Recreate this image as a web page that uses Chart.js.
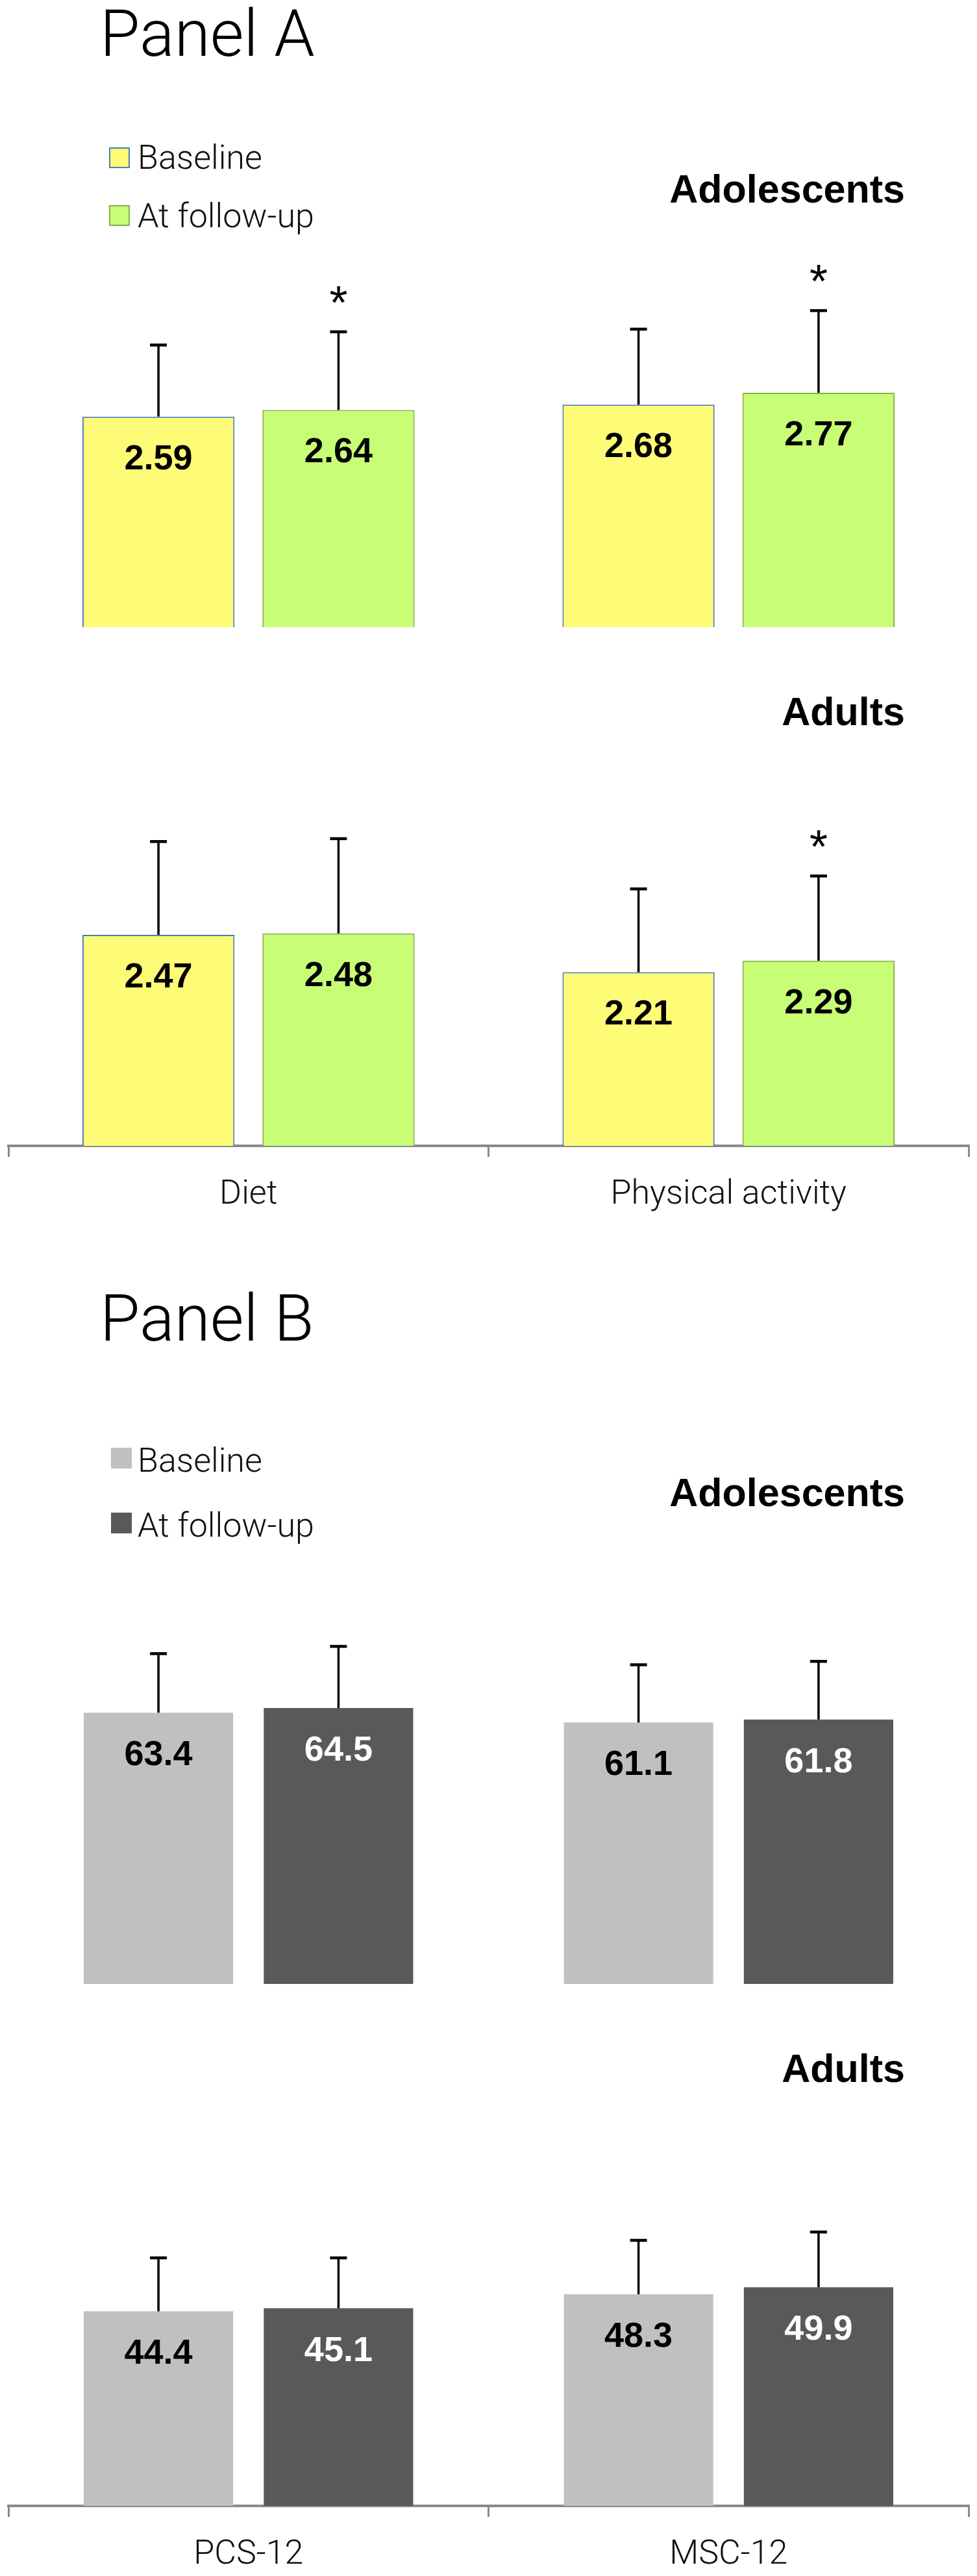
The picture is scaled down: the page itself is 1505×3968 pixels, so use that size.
<!DOCTYPE html>
<html>
<head>
<meta charset="utf-8">
<title>Panel A / Panel B</title>
<script src="https://cdn.jsdelivr.net/npm/chart.js@4.4.1/dist/chart.umd.min.js"></script>
<style>
  html, body { margin: 0; padding: 0; background: #fff; }
  body { position: relative; width: 1505px; height: 3968px; overflow: hidden; }
  .t { position: absolute; white-space: nowrap; line-height: 1; z-index: 2; color: #000; }
  .light { font-family: Roboto, "Liberation Sans", sans-serif; font-weight: 300; }
  .title { font-size: 100px; }
  .leg { font-size: 52px; color: #111; }
  .group { font-family: "Liberation Sans", Arial, sans-serif; font-weight: 700; font-size: 61px; }
  .sw { position: absolute; width: 32px; height: 32px; box-sizing: border-box; z-index: 2; }
  canvas { position: absolute; left: 0; }
</style>
</head>
<body>

<div class="t light title" data-left="154" data-base="86">Panel A</div>
<div class="sw" style="left:168px;top:227px;background:#fefc76;border:2px solid #4a7ebb"></div>
<div class="t light leg" data-left="212" data-base="260">Baseline</div>
<div class="sw" style="left:168px;top:316px;background:#c8fd76;border:2px solid #88b04b"></div>
<div class="t light leg" data-left="212" data-base="350">At follow-up</div>
<div class="t group" data-right="1394" data-base="312">Adolescents</div>
<div class="t group" data-right="1394" data-base="1117">Adults</div>

<div class="t light title" data-left="154" data-base="2065">Panel B</div>
<div class="sw" style="left:171px;top:2230px;background:#c0c0c0"></div>
<div class="t light leg" data-left="212" data-base="2267">Baseline</div>
<div class="sw" style="left:171px;top:2330px;background:#595959"></div>
<div class="t light leg" data-left="212" data-base="2367">At follow-up</div>
<div class="t group" data-right="1394" data-base="2320">Adolescents</div>
<div class="t group" data-right="1394" data-base="3207">Adults</div>

<canvas id="chartA1" width="1505" height="666" style="top:300px"></canvas>
<canvas id="chartA2" width="1505" height="800" style="top:1100px"></canvas>
<canvas id="chartB1" width="1505" height="716" style="top:2340px"></canvas>
<canvas id="chartB2" width="1505" height="708" style="top:3260px"></canvas>

<script>
// ---- data ----
const categoriesA = ['Diet', 'Physical activity'];
const categoriesB = ['PCS-12', 'MSC-12'];
const seriesLabels = ['Baseline', 'At follow-up'];

// Panel A, adolescents
const adolBaseA = [2.59, 2.68];
const adolFollowA = [2.64, 2.77];
const adolBaseSdA = [0.54, 0.57];
const adolFollowSdA = [0.59, 0.62];
const adolFollowSigA = [true, true];

// Panel A, adults
const adultBaseA = [2.47, 2.21];
const adultFollowA = [2.48, 2.29];
const adultBaseSdA = [0.65, 0.58];
const adultFollowSdA = [0.66, 0.59];
const adultFollowSigA = [false, true];

// Panel B, adolescents
const adolBaseB = [63.4, 61.1];
const adolFollowB = [64.5, 61.8];
const adolBaseSdB = [13.8, 13.5];
const adolFollowSdB = [14.4, 13.6];

// Panel B, adults
const adultBaseB = [44.4, 48.3];
const adultFollowB = [45.1, 49.9];
const adultBaseSdB = [12.2, 12.3];
const adultFollowSdB = [11.5, 12.6];

const noSig = [false, false];

// ---- colours ----
const yellow = '#fefc76', yellowEdge = '#4a7ebb';
const green = '#c8fd76', greenEdge = '#88b04b';
const lightGrey = '#c0c0c0', darkGrey = '#595959';
const axisGrey = '#8a8a8a';

// error bars, value labels and asterisks
const barExtras = {
    id: 'barExtras',
    afterDatasetsDraw(chart) {
        const ctx = chart.ctx;
        const yScale = chart.scales.y;
        chart.data.datasets.forEach((ds, di) => {
            const meta = chart.getDatasetMeta(di);
            meta.data.forEach((bar, i) => {
                const v = ds.data[i];
                const errTop = yScale.getPixelForValue(v + ds.sd[i]);
                ctx.save();
                ctx.strokeStyle = '#000';
                ctx.lineWidth = 3.5;
                ctx.beginPath();
                ctx.moveTo(bar.x, bar.y);
                ctx.lineTo(bar.x, errTop);
                ctx.stroke();
                ctx.lineWidth = 4.5;
                ctx.beginPath();
                ctx.moveTo(bar.x - 13, errTop);
                ctx.lineTo(bar.x + 13, errTop);
                ctx.stroke();

                ctx.font = 'bold 54px "Liberation Sans", Arial, sans-serif';
                ctx.fillStyle = ds.valueColor;
                ctx.textAlign = 'center';
                ctx.textBaseline = 'alphabetic';
                ctx.fillText(v.toFixed(ds.decimals), bar.x, bar.y + 81);

                if (ds.sig[i]) {
                    ctx.font = '72px "Liberation Sans", Arial, sans-serif';
                    ctx.fillStyle = '#000';
                    const m = ctx.measureText('*');
                    const cy = errTop - 57;
                    ctx.fillText('*', bar.x, cy + (m.actualBoundingBoxAscent - m.actualBoundingBoxDescent) / 2);
                }
                ctx.restore();
            });
        });
    }
};

function bottomAxis(height) {
    return {
        display: true,
        grid: { display: true, drawOnChartArea: false, drawTicks: true, tickLength: 17,
                color: axisGrey, lineWidth: 3, offset: true },
        border: { display: true, color: axisGrey, width: 4 },
        ticks: { color: '#111', padding: 28,
                 font: { family: 'Roboto, "Liberation Sans", sans-serif', size: 52, weight: '300' } },
        afterFit(scale) { scale.height = height; }
    };
}

function makeChart(id, labels, datasets, opts) {
    return new Chart(document.getElementById(id), {
        type: 'bar',
        data: { labels: labels, datasets: datasets },
        options: {
            responsive: false,
            animation: false,
            layout: { padding: { top: opts.padTop, left: 13, right: 13, bottom: 0 } },
            plugins: { legend: { display: false }, tooltip: { enabled: false } },
            scales: {
                x: opts.axisHeight ? bottomAxis(opts.axisHeight) : { display: false },
                y: { display: false, min: opts.min, max: opts.max }
            }
        },
        plugins: [barExtras]
    });
}

function panelADatasets(base, follow, baseSd, followSd, followSig) {
    return [
        { label: seriesLabels[0], data: base, sd: baseSd, sig: noSig,
          backgroundColor: yellow, borderColor: yellowEdge, borderWidth: 2,
          categoryPercentage: 0.75, barPercentage: 0.845, valueColor: '#000', decimals: 2 },
        { label: seriesLabels[1], data: follow, sd: followSd, sig: followSig,
          backgroundColor: green, borderColor: greenEdge, borderWidth: 2,
          categoryPercentage: 0.75, barPercentage: 0.845, valueColor: '#000', decimals: 2 }
    ];
}

function panelBDatasets(base, follow, baseSd, followSd) {
    return [
        { label: seriesLabels[0], data: base, sd: baseSd, sig: noSig,
          backgroundColor: lightGrey, borderWidth: 0,
          categoryPercentage: 0.75, barPercentage: 0.83, valueColor: '#000', decimals: 1 },
        { label: seriesLabels[1], data: follow, sd: followSd, sig: noSig,
          backgroundColor: darkGrey, borderWidth: 0,
          categoryPercentage: 0.75, barPercentage: 0.83, valueColor: '#fff', decimals: 1 }
    ];
}

// put each text so its baseline sits at data-base
function placeTexts() {
    document.querySelectorAll('.t').forEach(el => {
        const probe = document.createElement('span');
        probe.style.cssText = 'display:inline-block;width:0;height:0;vertical-align:baseline';
        el.appendChild(probe);
        const off = probe.offsetTop;
        el.removeChild(probe);
        el.style.top = (parseFloat(el.dataset.base) - off) + 'px';
        if (el.dataset.left) el.style.left = el.dataset.left + 'px';
        if (el.dataset.right) el.style.right = (1505 - parseFloat(el.dataset.right)) + 'px';
    });
}

function drawAll() {
    placeTexts();
    makeChart('chartA1', categoriesA,
        panelADatasets(adolBaseA, adolFollowA, adolBaseSdA, adolFollowSdA, adolFollowSigA),
        { padTop: 105, min: 1, max: 3.75 });
    makeChart('chartA2', categoriesA,
        panelADatasets(adultBaseA, adultFollowA, adultBaseSdA, adultFollowSdA, adultFollowSigA),
        { padTop: 57, min: 1, max: 3.75, axisHeight: 135 });
    makeChart('chartB1', categoriesB,
        panelBDatasets(adolBaseB, adolFollowB, adolBaseSdB, adolFollowSdB),
        { padTop: 57, min: 0, max: 100 });
    makeChart('chartB2', categoriesB,
        panelBDatasets(adultBaseB, adultFollowB, adultBaseSdB, adultFollowSdB),
        { padTop: 60, min: 0, max: 80, axisHeight: 108 });
}

if (document.fonts && document.fonts.ready) {
    document.fonts.ready.then(drawAll);
} else {
    drawAll();
}
</script>
</body>
</html>
